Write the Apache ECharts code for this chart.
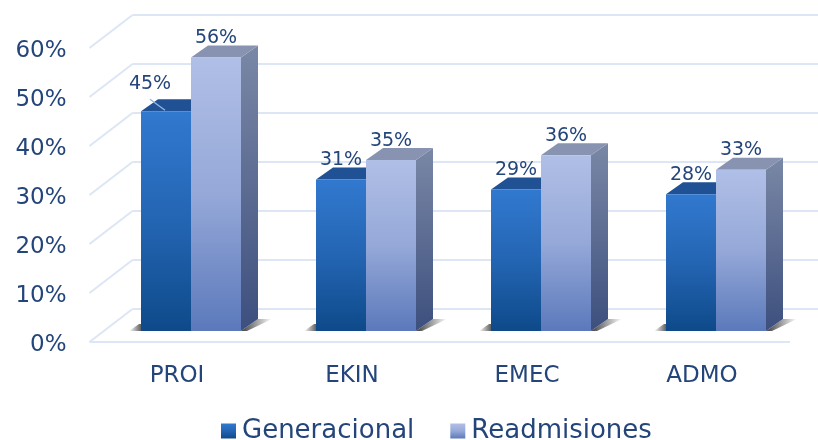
<!DOCTYPE html>
<html>
<head>
<meta charset="utf-8">
<script src="https://cdn.jsdelivr.net/npm/echarts@6/dist/echarts.min.js"></script>
<style>
  html, body { margin: 0; padding: 0; background: #ffffff; }
  #main { width: 818px; height: 440px; }
</style>
</head>
<body>
<div id="main"></div>
<script>
  // datos
  var categories = ['PROI', 'EKIN', 'EMEC', 'ADMO'];
  var generacional = [45, 31, 29, 28];
  var readmisiones = [56, 35, 36, 33];
  var yTicks = [0, 10, 20, 30, 40, 50, 60];
  var seriesNames = ['Generacional', 'Readmisiones'];

  var FONT = '"DejaVu Sans", sans-serif';
  var TEXT_COLOR = '#24457a';
  var BAR_W = 50;      // ancho de cada barra
  var DX = 17, DY = -12;   // profundidad de la barra
  var WALL_DX = 43, WALL_DY = -33;  // profundidad del suelo
  var GRID_COLOR = '#dce6f4';
  var labelShift = { 0: -16 };  // etiqueta 45% desplazada con linea guia

  var chart = echarts.init(document.getElementById('main'));

  function grad(stops) {
    return new echarts.graphic.LinearGradient(0, 0, 0, 1, stops.map(function (c, i) {
      return { offset: i / (stops.length - 1), color: c };
    }));
  }

  var looks = [
    { front: ['#3179cf', '#2465b3', '#0e4a8a'], side: ['#1d4d8a', '#123d70'], top: '#1f5194' },
    { front: ['#b0bfe6', '#95a8d8', '#5b79bb'], side: ['#7a88a6', '#3d4f7e'], top: '#8793b0' }
  ];

  function barRenderer(s) {
    var look = looks[s];
    return function (params, api) {
      var idx = api.value(0), v = api.value(1);
      var base = api.coord([idx, 0]);
      var top = api.coord([idx, v]);
      var x0 = base[0] + (s === 0 ? -BAR_W : 0);
      var x1 = x0 + BAR_W;
      var yb = base[1], yt = top[1];
      var children = [];
      // sombras en el suelo
      if (s === 1) {
        children.push({
          type: 'polygon',
          shape: { points: [[x1, yb], [x1 + DX, yb + DY], [x1 + DX + 14, yb + DY], [x1 + 6, yb]] },
          style: {
            fill: new echarts.graphic.LinearGradient(0, 0, 1, 0, [
              { offset: 0, color: 'rgba(30,30,30,0.85)' },
              { offset: 1, color: 'rgba(30,30,30,0)' }
            ])
          }
        });
      } else {
        children.push({
          type: 'polygon',
          shape: { points: [[x0 - 12, yb], [x0 - 2, yb - 7], [x0, yb - 7], [x0, yb]] },
          style: {
            fill: new echarts.graphic.LinearGradient(1, 0, 0, 0, [
              { offset: 0, color: 'rgba(30,30,30,0.7)' },
              { offset: 1, color: 'rgba(30,30,30,0)' }
            ])
          }
        });
      }
      // cara lateral
      children.push({
        type: 'polygon',
        shape: { points: [[x1, yb], [x1 + DX, yb + DY], [x1 + DX, yt + DY], [x1, yt]] },
        style: { fill: grad(look.side) }
      });
      // cara superior
      children.push({
        type: 'polygon',
        shape: { points: [[x0, yt], [x0 + DX, yt + DY], [x1 + DX, yt + DY], [x1, yt]] },
        style: { fill: look.top }
      });
      // cara frontal
      children.push({
        type: 'rect',
        shape: { x: x0, y: yt, width: BAR_W, height: yb - yt },
        style: { fill: grad(look.front) }
      });
      var shift = (s === 0 && labelShift[params.dataIndex] !== undefined) ? labelShift[params.dataIndex] : 0;
      var lx = x0 + BAR_W / 2 + shift;
      var ly = yt + DY + 2;
      if (shift) {
        ly = yt - 18;
        children.push({
          type: 'line',
          shape: { x1: lx, y1: ly + 6, x2: x0 + BAR_W / 2 - 1, y2: yt - 1 },
          style: { stroke: '#8fb4e0', lineWidth: 1.5 }
        });
      }
      children.push({
        type: 'text',
        style: {
          text: v + '%', x: lx, y: ly,
          align: 'center', verticalAlign: 'bottom',
          fontSize: 19, fontFamily: FONT, fill: TEXT_COLOR
        }
      });
      return { type: 'group', children: children };
    };
  }

  function gridRenderer(params, api) {
    var v = api.value(1);
    var y = api.coord([0, v])[1];
    var fx = params.coordSys.x;
    var children = [
      { type: 'line', shape: { x1: fx, y1: y, x2: fx + WALL_DX, y2: y + WALL_DY }, style: { stroke: GRID_COLOR, lineWidth: 2 } },
      { type: 'line', shape: { x1: fx + WALL_DX, y1: y + WALL_DY, x2: 818, y2: y + WALL_DY }, style: { stroke: GRID_COLOR, lineWidth: 2 } }
    ];
    if (v === 0) {
      children.push({ type: 'line', shape: { x1: fx, y1: y, x2: 790, y2: y }, style: { stroke: GRID_COLOR, lineWidth: 2 } });
    }
    return { type: 'group', children: children };
  }

  var option = {
    backgroundColor: '#ffffff',
    animation: false,
    legend: {
      data: seriesNames,
      left: 216,
      top: 413,
      icon: 'rect',
      itemWidth: 15,
      itemHeight: 15,
      itemGap: 36,
      textStyle: { fontSize: 26, fontFamily: FONT, color: TEXT_COLOR, padding: [0, 0, 0, 1] }
    },
    grid: [
      // plano de las barras
      { left: 103.5, width: 700, top: 38, height: 293 },
      // plano frontal (etiquetas de ejes)
      { left: 89.5, width: 700, top: 48, height: 294 }
    ],
    xAxis: [
      { type: 'category', gridIndex: 0, data: categories, show: false },
      {
        type: 'category', gridIndex: 1, data: categories,
        axisLine: { show: false }, axisTick: { show: false },
        axisLabel: { fontSize: 23, fontFamily: FONT, color: TEXT_COLOR, margin: 23 }
      }
    ],
    yAxis: [
      { type: 'value', gridIndex: 0, min: 0, max: 60, interval: 10, show: false },
      {
        type: 'value', gridIndex: 1, min: 0, max: 60, interval: 10,
        axisLine: { show: false }, axisTick: { show: false }, splitLine: { show: false },
        axisLabel: {
          formatter: '{v|{value}%}', margin: 23,
          rich: { v: { fontSize: 23, fontFamily: FONT, color: TEXT_COLOR, padding: [6, 0, 0, 0] } }
        }
      }
    ],
    series: [
      {
        type: 'custom', name: 'grid', xAxisIndex: 1, yAxisIndex: 1, silent: true, z: 1,
        renderItem: gridRenderer,
        data: yTicks.map(function (t) { return [0, t]; })
      },
      {
        type: 'custom', name: seriesNames[0], xAxisIndex: 0, yAxisIndex: 0, z: 2,
        itemStyle: { color: grad(looks[0].front) },
        renderItem: barRenderer(0),
        data: generacional.map(function (v, i) { return [i, v]; })
      },
      {
        type: 'custom', name: seriesNames[1], xAxisIndex: 0, yAxisIndex: 0, z: 3,
        itemStyle: { color: grad(looks[1].front) },
        renderItem: barRenderer(1),
        data: readmisiones.map(function (v, i) { return [i, v]; })
      }
    ]
  };

  chart.setOption(option);
</script>
</body>
</html>
